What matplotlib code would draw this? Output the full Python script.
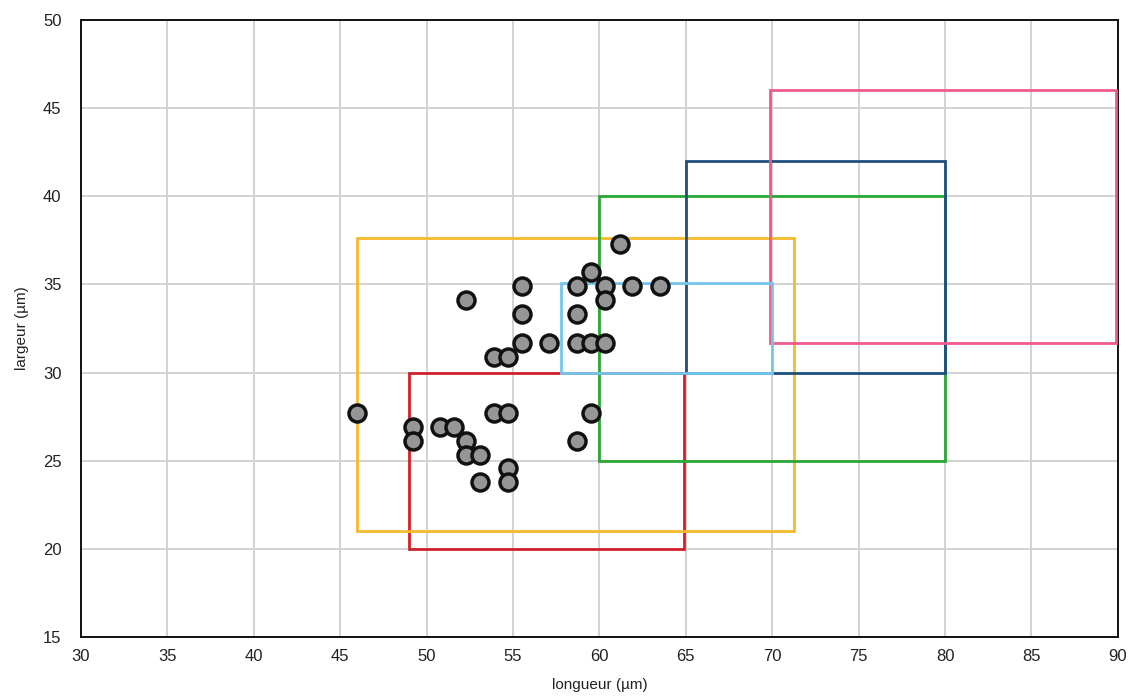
import matplotlib
matplotlib.use("Agg")
import matplotlib.pyplot as plt
from matplotlib.patches import Rectangle

plt.rcParams['font.family'] = ['Liberation Sans', 'DejaVu Sans']

# Measured specimens (length, width in µm)
longueur = [46.0, 49.2, 49.2, 50.8, 51.6, 52.3, 52.3, 53.1, 53.1, 53.9, 54.7, 54.7, 54.7,
            52.3, 53.9, 54.7, 55.5, 55.5, 55.5, 57.1, 58.7, 59.5, 60.3, 58.7, 58.7,
            59.5, 60.3, 60.3, 61.2, 61.9, 63.5, 59.5, 58.7]
largeur = [27.7, 26.9, 26.1, 26.9, 26.9, 26.1, 25.3, 25.3, 23.8, 27.7, 27.7, 24.6, 23.8,
           34.1, 30.9, 30.9, 34.9, 33.3, 31.7, 31.7, 31.7, 31.7, 31.7, 33.3, 34.9,
           35.7, 34.9, 34.1, 37.3, 34.9, 34.9, 27.7, 26.1]

# Reference ranges: (x_min, x_max, y_min, y_max)
range_names = ["rouge", "jaune", "vert", "bleu foncé", "rose", "bleu clair"]
range_xmin = [49.0, 46.0, 60.0, 65.0, 69.9, 57.8]
range_xmax = [64.9, 71.25, 80.0, 80.0, 89.9, 70.0]
range_ymin = [20.0, 21.0, 25.0, 30.0, 31.7, 30.0]
range_ymax = [30.0, 37.65, 40.0, 42.0, 46.05, 35.1]
range_colors = ["#d0202a", "#f6b92c", "#2aa836", "#1f4f7e", "#ec5a8e", "#74c6ee"]

x_ticks = list(range(30, 91, 5))
y_ticks = list(range(15, 51, 5))

fig = plt.figure(figsize=(11.3, 6.96), dpi=100)
ax = fig.add_axes([0.0717, 0.0848, 0.9175, 0.8865])

ax.set_xlim(30, 90)
ax.set_ylim(15, 50)
ax.set_xticks(x_ticks)
ax.set_yticks(y_ticks)
ax.grid(True, color="#d2d2d2", linewidth=1.4)
ax.set_axisbelow(True)
ax.tick_params(length=0, labelsize=12, colors="#222222")
ax.tick_params(axis="y", pad=14)
ax.tick_params(axis="x", pad=9)
for s in ax.spines.values():
    s.set_color("#111111")
    s.set_linewidth(1.4)

for x0, x1, y0, y1, c in zip(range_xmin, range_xmax, range_ymin, range_ymax, range_colors):
    ax.add_patch(Rectangle((x0, y0), x1 - x0, y1 - y0, fill=False,
                           edgecolor=c, linewidth=2.0, zorder=3))

ax.scatter(longueur, largeur, s=150, facecolor="#969696", edgecolor="#111111",
           linewidth=2.5, zorder=5)

ax.set_xlabel("longueur (µm)", fontsize=11, color="#222222", labelpad=10)
ax.set_ylabel("largeur (µm)", fontsize=11, color="#222222", labelpad=10)

fig.savefig("out.png", dpi=100)
